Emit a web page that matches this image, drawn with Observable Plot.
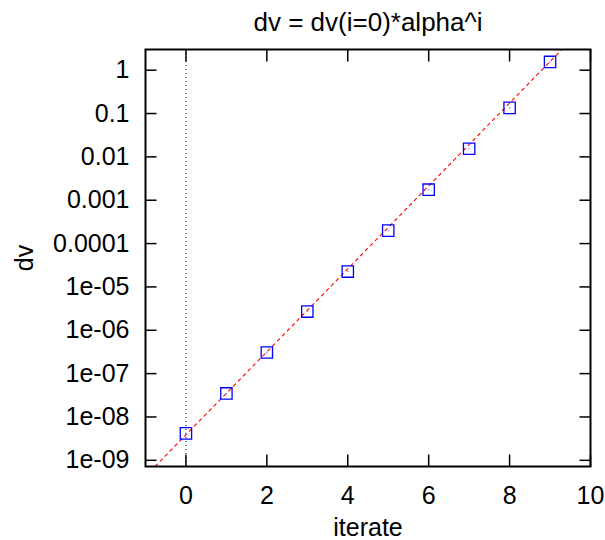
<!DOCTYPE html>
<html><head><meta charset="utf-8">
<script src="https://cdn.jsdelivr.net/npm/d3@7"></script>
<script src="https://cdn.jsdelivr.net/npm/@observablehq/plot@0.6"></script>
<style>body{margin:0;background:#fff}</style>
</head><body><div id="chart"></div>
<script>
const iterates = [0, 1, 2, 3, 4, 5, 6, 7, 8, 9];
const dvValues = [4.18e-9, 3.49e-8, 3.07e-7, 2.70e-6, 2.26e-5, 1.99e-4, 1.75e-3, 1.54e-2, 0.135, 1.55];
const fitIterates = [-1, 10];
const fitValues = [4.3e-10, 14.3];
const xTicks = [0, 2, 4, 6, 8, 10];
const yTicks = [1e-9, 1e-8, 1e-7, 1e-6, 1e-5, 1e-4, 1e-3, 1e-2, 1e-1, 1];
const yTickLabels = ["1e-09", "1e-08", "1e-07", "1e-06", "1e-05", "0.0001", "0.001", "0.01", "0.1", "1"];
const titleText = "dv = dv(i=0)*alpha^i";
const xLabel = "iterate";
const yLabel = "dv";

const points = iterates.map((i, k) => ({i, dv: dvValues[k]}));
const fit = fitIterates.map((i, k) => ({i, dv: fitValues[k]}));

const W = 605, H = 540, mL = 145, mR = 15, mT = 49, mB = 74;
const frameW = W - mL - mR, frameH = H - mT - mB;
const xDomain = [-1, 10], yDomain = [7.2e-10, 3];
const yTickLen = 11, xTickLen = 12;

// tick lengths converted from pixels into data units via the scale extents
const xPerPx = (xDomain[1] - xDomain[0]) / frameW;
const yLogPerPx = Math.log10(yDomain[1] / yDomain[0]) / frameH;
const yTickSegs = yTicks.flatMap(v => [
  {x1: xDomain[0], x2: xDomain[0] + yTickLen * xPerPx, y1: v, y2: v},
  {x1: xDomain[1], x2: xDomain[1] - yTickLen * xPerPx, y1: v, y2: v}
]);
const xTickSegs = xTicks.flatMap(v => [
  {x1: v, x2: v, y1: yDomain[0], y2: yDomain[0] * Math.pow(10, xTickLen * yLogPerPx)},
  {x1: v, x2: v, y1: yDomain[1], y2: yDomain[1] / Math.pow(10, xTickLen * yLogPerPx)}
]);

const chart = Plot.plot({
  width: W, height: H,
  marginLeft: mL, marginRight: mR, marginTop: mT, marginBottom: mB,
  style: {fontFamily: "'Liberation Sans', Arial, sans-serif", background: "#fff", color: "#000"},
  x: {domain: xDomain},
  y: {type: "log", domain: yDomain},
  marks: [
    Plot.ruleX([0], {stroke: "#000", strokeWidth: 1, strokeDasharray: "1,3"}),
    Plot.line(fit, {x: "i", y: "dv", stroke: "#ff0000", strokeWidth: 1.1, strokeDasharray: "3,4", clip: true}),
    Plot.dot(points, {x: "i", y: "dv", symbol: "square", r: 6.4, stroke: "#0000ff", strokeWidth: 1.3, fill: "none"}),
    Plot.dot(points, {x: "i", y: "dv", r: 0.8, fill: "#8888ff"}),
    // inward ticks on all four sides
    Plot.link(yTickSegs, {x1: "x1", x2: "x2", y1: "y1", y2: "y2", stroke: "#000", strokeWidth: 1.5}),
    Plot.link(xTickSegs, {x1: "x1", x2: "x2", y1: "y1", y2: "y2", stroke: "#000", strokeWidth: 1.5}),
    Plot.axisX(xTicks, {anchor: "bottom", tickSize: 0, tickPadding: 20, fontSize: 25, label: xLabel, labelAnchor: "center", labelArrow: "none", labelOffset: 69}),
    Plot.axisY(yTicks, {anchor: "left", tickSize: 0, tickPadding: 16, tickFormat: d => yTickLabels[yTicks.indexOf(d)], fontSize: 25, label: yLabel, labelAnchor: "center", labelArrow: "none", labelOffset: 130}),
    Plot.frame({stroke: "#000", strokeWidth: 2}),
    Plot.text([titleText], {frameAnchor: "top", dy: -27, fontSize: 26, lineAnchor: "middle"})
  ]
});
document.getElementById("chart").appendChild(chart);
</script>
</body></html>
